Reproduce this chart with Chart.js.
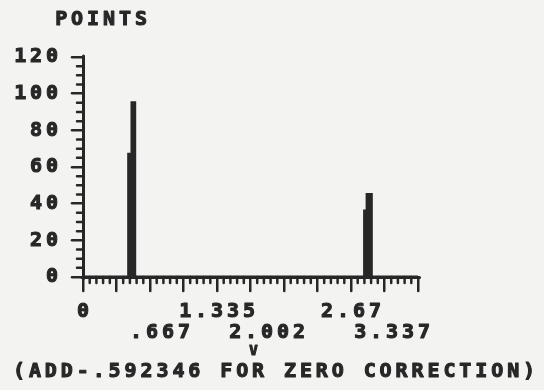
<!DOCTYPE html>
<html>
<head>
<meta charset="utf-8">
<title>Points vs V</title>
<script src="https://cdn.jsdelivr.net/npm/chart.js@4.4.1/dist/chart.umd.min.js"></script>
<style>
  html, body { margin: 0; padding: 0; background: #f3f3f1; }
  #wrap { width: 544px; height: 390px; }
</style>
</head>
<body>
<div id="wrap"><canvas id="myChart"></canvas></div>
<script>
// histogram: left edge of each bin (V) and the number of points in it
const binStart = [0, 0.455, 0.488, 0.515, 2.805, 2.83, 2.872, 3.337];
const points = [0, 67, 95, 0, 36, 45, 0, 0];

const xTickLabels = ["0", ".667", "1.335", "2.002", "2.67", "3.337"];
const yMax = 120;
const xMax = 3.337;
const xTitle = "V";
const xNote = "(ADD-.592346 FOR ZERO CORRECTION)";
const yTitle = "POINTS";

const ink = "#272727";
const plotFont = "'DejaVu Sans Mono', monospace";
const spacing = "3.9px";
// the second row of x labels sits a little off its tick
const labelNudge = [0, 10, 0, -17, 0, -26];

const ctx = document.getElementById("myChart").getContext("2d");

const writeText = (c, text, x, y) => {
  c.strokeText(text, x, y);
  c.fillText(text, x, y);
};

// plotter style: wide spaced letters, round pen, small ticks between the big ones
const plotterLook = {
  id: "plotterLook",
  beforeDraw(chart) {
    chart.ctx.letterSpacing = spacing;
    chart.ctx.lineCap = "round";
  },
  afterDraw(chart) {
    const c = chart.ctx;
    const { x, y } = chart.scales;
    c.save();
    c.strokeStyle = ink;
    c.lineWidth = 2.5;
    c.lineCap = "round";
    c.beginPath();
    for (let i = 0; i <= 50; i++) {
      if (i % 5 === 0) continue;
      const px = x.getPixelForValue((xMax * i) / 50);
      c.moveTo(px, y.bottom);
      c.lineTo(px, y.bottom + 6);
    }
    for (let v = 0; v <= yMax; v += 5) {
      if (v % 20 === 0) continue;
      const py = y.getPixelForValue(v);
      c.moveTo(x.left, py);
      c.lineTo(x.left - 6, py);
    }
    c.stroke();

    c.fillStyle = ink;
    c.lineWidth = 1.1;
    c.lineJoin = "round";
    c.textAlign = "center";
    c.textBaseline = "alphabetic";
    c.letterSpacing = spacing;
    c.font = "bold 20px " + plotFont;

    // staggered tick labels under every other major tick
    x.ticks.forEach((t, i) => {
      if (i % 2) return;
      const k = i / 2;
      const px = x.getPixelForValue(t.value) + labelNudge[k] + 2;
      writeText(c, xTickLabels[k], px, y.bottom + 40 + (k % 2) * 21);
    });

    writeText(c, yTitle, x.left + 20, 25);
    writeText(c, xNote, 276, 377);
    c.font = "bold 14px " + plotFont;
    writeText(c, xTitle, (x.left + x.right) / 2 + 5, 355);
    c.restore();
  },
};

const myChart = new Chart(ctx, {
  type: "line",
  data: {
    datasets: [
      {
        data: binStart.map((v, i) => ({ x: v, y: points[i] })),
        stepped: true,
        borderColor: ink,
        backgroundColor: ink,
        borderWidth: 3,
        fill: "origin",
        pointRadius: 0,
      },
    ],
  },
  options: {
    responsive: true,
    maintainAspectRatio: false,
    animation: false,
    layout: {
      padding: { top: 57, right: 126, left: 0, bottom: 0 },
    },
    scales: {
      x: {
        type: "linear",
        min: 0,
        max: xMax,
        afterFit: (scale) => {
          scale.height = 113;
        },
        afterBuildTicks: (scale) => {
          scale.ticks = Array.from({ length: 11 }, (_, i) => ({ value: (xMax * i) / 10 }));
        },
        border: { display: true, color: ink, width: 3 },
        grid: {
          drawOnChartArea: false,
          color: ink,
          lineWidth: 2.5,
          tickLength: 14,
        },
        ticks: { display: false },
      },
      y: {
        min: 0,
        max: yMax,
        afterFit: (scale) => {
          scale.width = 83;
        },
        border: { display: true, color: ink, width: 3 },
        grid: {
          drawOnChartArea: false,
          color: ink,
          lineWidth: 2.5,
          tickLength: 11,
        },
        ticks: {
          stepSize: 20,
          color: ink,
          padding: 10,
          textStrokeColor: ink,
          textStrokeWidth: 1.1,
          font: { family: plotFont, size: 20, weight: "bold" },
        },
      },
    },
    plugins: {
      legend: { display: false },
      tooltip: { enabled: false },
    },
  },
  plugins: [plotterLook],
});
</script>
</body>
</html>
